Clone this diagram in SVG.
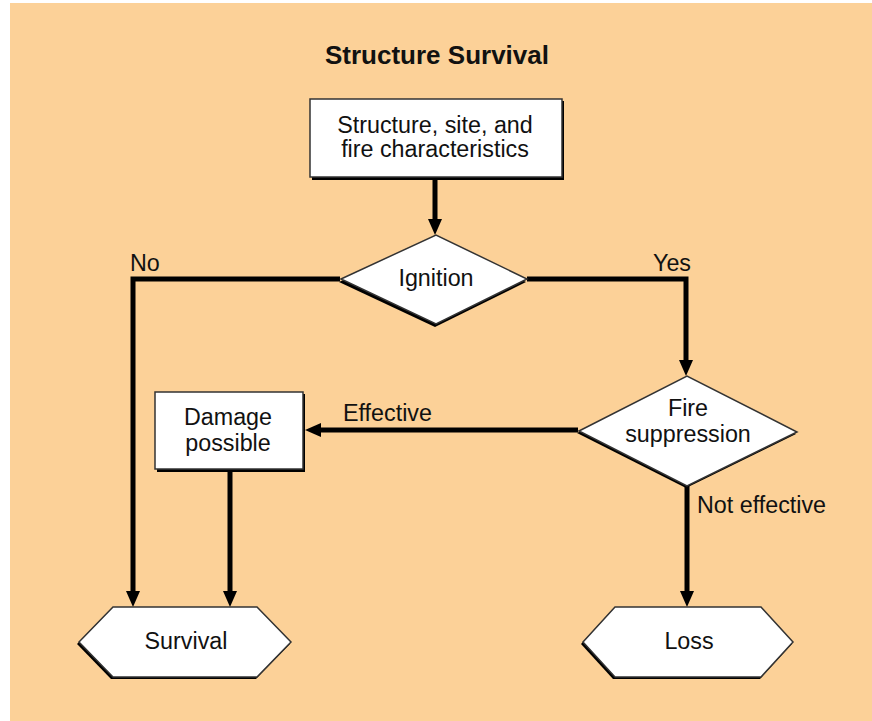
<svg xmlns="http://www.w3.org/2000/svg" width="872" height="721" viewBox="0 0 872 721">
<style>
  text { font-family: "Liberation Sans", Arial, sans-serif; fill: #111; }
  .lbl { font-size: 23.3px; text-anchor: middle; }
  .edge { font-size: 23.3px; }
  .shape { fill: #fff; stroke: #333; stroke-width: 1.5; stroke-linejoin: miter; }
  .shadow { fill: #000; }
  .conn { fill: none; stroke: #000; stroke-width: 5; stroke-linejoin: miter; marker-end: url(#arr); }
</style>
<defs>
  <marker id="arr" viewBox="0 0 16 14" refX="2" refY="7" markerWidth="16" markerHeight="14" markerUnits="userSpaceOnUse" orient="auto">
    <path d="M0,0 L16,7 L0,14 z" fill="#000"/>
  </marker>
</defs>
<rect x="10" y="3" width="862" height="718" fill="#FCD198"/>
<text x="437" y="64" style="font-size:26px;font-weight:bold;text-anchor:middle">Structure Survival</text>

<g id="connectors">
  <path class="conn" d="M435,177 V221"/>
  <path class="conn" d="M340,279 H133 V593"/>
  <path class="conn" d="M527,279 H686 V362"/>
  <path class="conn" d="M578,430 H319"/>
  <path class="conn" d="M230,469 V593"/>
  <path class="conn" d="M687,486 V593"/>
  <text class="edge" x="130" y="271">No</text>
  <text class="edge" x="653" y="271">Yes</text>
  <text class="edge" x="343" y="421">Effective</text>
  <text class="edge" x="697" y="513">Not effective</text>
</g>

<g id="n-characteristics">
  <rect class="shadow" x="312" y="101" width="252" height="79"/>
  <rect class="shape" x="310" y="99" width="252" height="78"/>
  <text class="lbl" x="435" y="133">Structure, site, and</text>
  <text class="lbl" x="435" y="157">fire characteristics</text>
</g>

<g id="n-ignition">
  <polygon class="shadow" points="339,282 435,237 526,282 435,327"/>
  <polygon class="shape" points="341,279 436,235 527,279 436,324"/>
  <text class="lbl" x="436" y="286">Ignition</text>
</g>

<g id="n-suppression">
  <polygon class="shadow" points="577,433 686,378 796,434 686,488"/>
  <polygon class="shape" points="579,431 687,376 797,432 687,486"/>
  <text class="lbl" x="688" y="416">Fire</text>
  <text class="lbl" x="688" y="442">suppression</text>
</g>

<g id="n-damage">
  <rect class="shadow" x="157" y="394" width="148" height="78"/>
  <rect class="shape" x="155" y="392" width="148" height="77"/>
  <text class="lbl" x="228" y="425">Damage</text>
  <text class="lbl" x="228" y="451">possible</text>
</g>

<g id="n-survival">
  <polygon class="shadow" points="77,644 111,609 256,609 290,644 256,679 111,679"/>
  <polygon class="shape" points="79,642 113,607 257,607 291,642 257,677 113,677"/>
  <text class="lbl" x="186" y="649">Survival</text>
</g>

<g id="n-loss">
  <polygon class="shadow" points="581,644 613,609 760,609 792,644 760,679 613,679"/>
  <polygon class="shape" points="583,642 615,607 761,607 793,642 761,677 615,677"/>
  <text class="lbl" x="689" y="649">Loss</text>
</g>
</svg>
